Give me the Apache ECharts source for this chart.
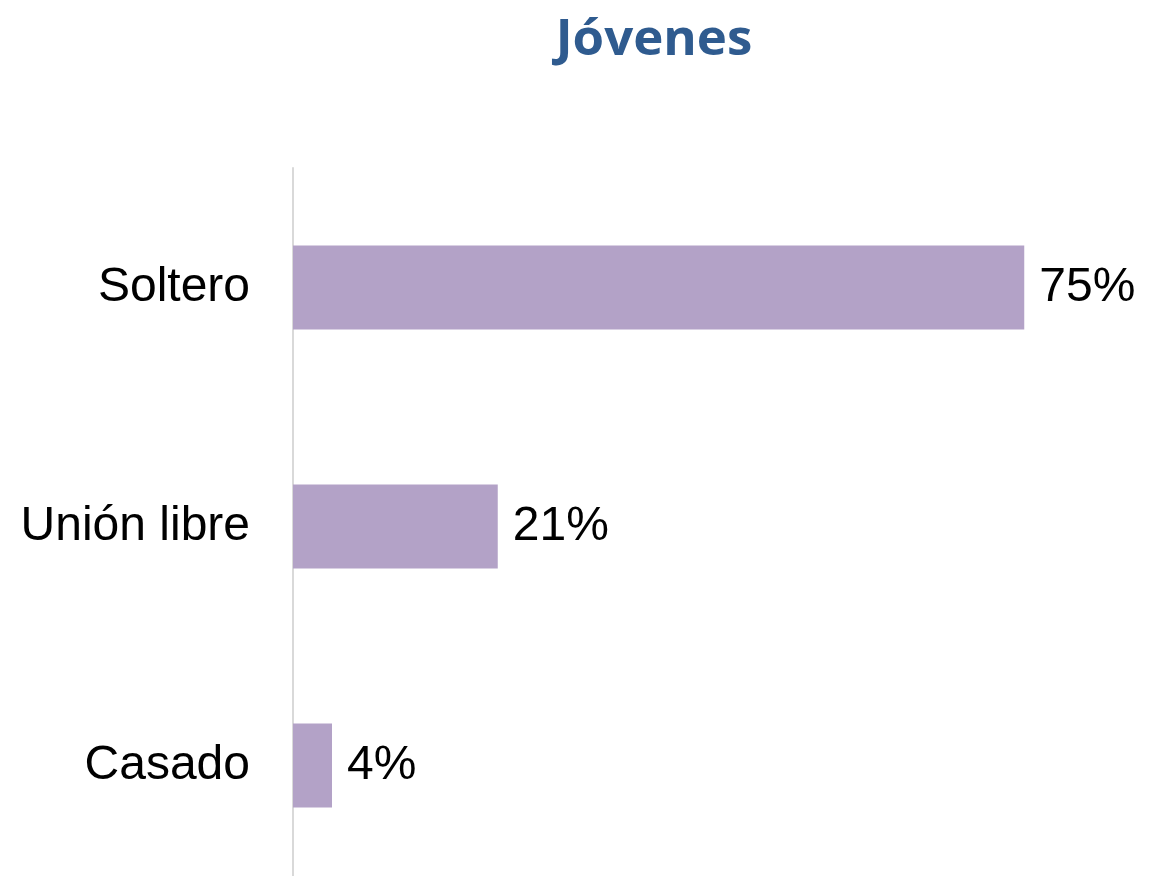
<!DOCTYPE html>
<html>
<head>
<meta charset="utf-8">
<script src="https://cdn.jsdelivr.net/npm/echarts@6/dist/echarts.min.js"></script>
<style>
html,body{margin:0;padding:0;background:#fff;}
#container{width:1149px;height:876px;}
</style>
</head>
<body>
<div id="container"></div>
<script>
// categories, bottom to top
var categories = ['Casado', 'Unión libre', 'Soltero'];
var values = [4, 21, 75];

var myChart = echarts.init(document.getElementById('container'));
var option = {
    animation: false,
    title: {
        text: 'Jóvenes',
        left: 649,
        top: 10,
        textAlign: 'center',
        textStyle: {
            fontFamily: 'Open Sans',
            fontWeight: 'bold',
            fontSize: 51,
            color: '#2F5B8F'
        }
    },
    grid: {
        left: 293,
        top: 168,
        width: 780,
        height: 717,
        outerBoundsMode: 'none'
    },
    xAxis: {
        type: 'value',
        min: 0,
        max: 80,
        show: false
    },
    yAxis: {
        type: 'category',
        data: categories,
        axisLine: {show: true, lineStyle: {color: '#d9d9d9', width: 2}},
        axisTick: {show: false},
        axisLabel: {
            margin: 43,
            fontFamily: 'Liberation Sans',
            fontSize: 48,
            color: '#000'
        }
    },
    series: [{
        type: 'bar',
        data: values,
        barWidth: 84,
        itemStyle: {color: '#B3A2C7'},
        label: {
            show: true,
            position: 'right',
            distance: 15,
            formatter: '{c}%',
            fontFamily: 'Liberation Sans',
            fontSize: 48,
            color: '#000'
        }
    }]
};
myChart.setOption(option);
</script>
</body>
</html>
